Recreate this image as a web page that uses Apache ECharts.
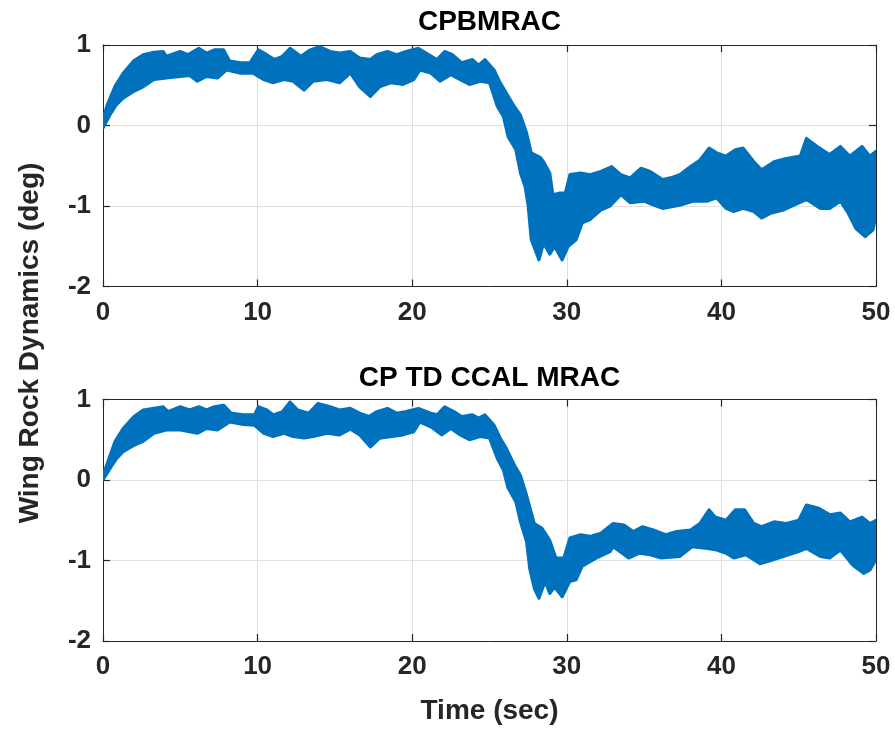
<!DOCTYPE html>
<html>
<head>
<meta charset="utf-8">
<script src="https://cdn.jsdelivr.net/npm/echarts@6/dist/echarts.min.js"></script>
<style>html,body{margin:0;padding:0;background:#fff}#chart{width:895px;height:729px}</style>
</head>
<body>
<div id="chart"></div>
<script>
// Axis settings
const xMin = 0, xMax = 50, xStep = 10;
const yMin = -2, yMax = 1, yStep = 1;
const titleTop = 'CPBMRAC';
const titleBottom = 'CP TD CCAL MRAC';
const xLabel = 'Time (sec)';
const yLabel = 'Wing Rock Dynamics (deg)';

// Top plot (CPBMRAC): upper and lower envelope of the response band [time, value]
const topUpper = [[0,0.07],[0.24,0.24],[0.78,0.49],[1.3,0.65],[1.96,0.80],[2.6,0.88],[3.3,0.91],[3.9,0.92],[4.1,0.86],[5.0,0.92],[5.5,0.88],[6.2,0.96],[6.7,0.90],[7.2,0.94],[7.8,0.94],[8.2,0.80],[8.9,0.78],[9.5,0.78],[10.05,0.94],[10.6,0.88],[11.1,0.82],[11.6,0.86],[12.1,0.96],[12.8,0.86],[13.4,0.94],[14.0,0.98],[14.7,0.92],[15.3,0.90],[16.0,0.92],[16.6,0.84],[17.3,0.82],[17.7,0.88],[18.4,0.92],[19.0,0.88],[19.6,0.92],[20.4,0.96],[20.9,0.90],[21.6,0.82],[22.1,0.92],[22.6,0.88],[23.2,0.78],[23.9,0.82],[24.3,0.75],[24.7,0.82],[25.3,0.69],[25.7,0.53],[26.1,0.40],[26.6,0.24],[27.0,0.13],[27.4,-0.09],[27.7,-0.34],[28.3,-0.40],[28.5,-0.45],[28.9,-0.59],[29.1,-0.86],[29.5,-0.84],[29.9,-0.84],[30.2,-0.61],[30.9,-0.59],[31.5,-0.61],[32.2,-0.57],[32.9,-0.51],[33.5,-0.61],[34.1,-0.65],[34.8,-0.53],[35.4,-0.57],[36.2,-0.67],[36.7,-0.65],[37.3,-0.61],[38.0,-0.51],[38.6,-0.43],[39.2,-0.28],[39.7,-0.34],[40.3,-0.38],[40.9,-0.30],[41.4,-0.28],[42.1,-0.45],[42.6,-0.55],[43.4,-0.45],[44.2,-0.41],[45.1,-0.38],[45.5,-0.16],[46.2,-0.26],[47.0,-0.36],[47.7,-0.26],[48.3,-0.38],[49.1,-0.26],[49.6,-0.38],[50,-0.32]];
const topLower = [[0,-0.03],[0.45,0.13],[0.88,0.26],[1.3,0.34],[1.96,0.42],[2.6,0.48],[3.3,0.57],[4.1,0.59],[5.0,0.61],[5.6,0.62],[6.1,0.55],[6.7,0.61],[7.4,0.59],[8.0,0.69],[8.9,0.65],[9.7,0.65],[10.4,0.57],[11.0,0.53],[11.7,0.57],[12.3,0.55],[13.0,0.44],[13.6,0.55],[14.5,0.57],[15.3,0.53],[16.0,0.65],[16.6,0.48],[17.3,0.36],[17.9,0.48],[18.6,0.53],[19.4,0.51],[20.1,0.57],[20.5,0.69],[21.2,0.65],[21.8,0.55],[22.5,0.63],[23.1,0.57],[23.7,0.51],[24.4,0.55],[25.0,0.53],[25.5,0.24],[25.9,0.11],[26.2,-0.14],[26.7,-0.30],[27.0,-0.59],[27.3,-0.76],[27.5,-1.00],[27.7,-1.42],[28.2,-1.67],[28.5,-1.46],[28.9,-1.60],[29.2,-1.50],[29.7,-1.67],[30.1,-1.50],[30.6,-1.42],[31.0,-1.21],[31.5,-1.17],[32.2,-1.05],[32.8,-1.00],[33.5,-0.86],[34.1,-0.96],[35.0,-0.94],[35.6,-0.99],[36.2,-1.03],[37.3,-0.99],[38.2,-0.94],[39.1,-0.94],[39.7,-0.90],[40.3,-1.03],[40.8,-1.07],[41.4,-1.03],[42.1,-1.07],[42.6,-1.15],[43.2,-1.09],[44.0,-1.05],[44.7,-0.99],[45.5,-0.92],[46.4,-1.03],[47.0,-1.03],[47.7,-0.94],[48.2,-1.09],[48.7,-1.28],[49.3,-1.38],[49.8,-1.30],[50,-1.13]];

// Bottom plot (CP TD CCAL MRAC)
const botUpper = [[0,0.06],[0.78,0.48],[1.3,0.64],[2.0,0.79],[2.6,0.87],[3.9,0.91],[4.2,0.85],[5.0,0.91],[5.6,0.87],[6.2,0.91],[6.7,0.87],[7.2,0.91],[7.8,0.93],[8.3,0.83],[9.1,0.81],[9.8,0.81],[10.05,0.91],[10.6,0.87],[11.0,0.81],[11.6,0.85],[12.1,0.97],[12.6,0.87],[13.3,0.83],[13.9,0.95],[14.7,0.91],[15.3,0.87],[16.0,0.89],[16.6,0.83],[17.2,0.79],[17.7,0.85],[18.4,0.89],[19.0,0.83],[19.6,0.85],[20.4,0.89],[21.2,0.83],[21.6,0.81],[22.1,0.91],[22.7,0.85],[23.2,0.79],[23.9,0.81],[24.3,0.77],[24.7,0.81],[25.3,0.68],[25.7,0.52],[26.1,0.39],[26.6,0.19],[27.0,0.06],[27.4,-0.19],[27.9,-0.54],[28.4,-0.60],[28.9,-0.75],[29.3,-0.97],[29.8,-0.97],[30.2,-0.72],[30.9,-0.68],[31.5,-0.70],[32.2,-0.66],[33.0,-0.54],[33.7,-0.56],[34.3,-0.64],[34.9,-0.58],[35.6,-0.62],[36.4,-0.68],[37.1,-0.64],[38.0,-0.62],[38.6,-0.54],[39.2,-0.37],[39.6,-0.46],[40.3,-0.50],[40.9,-0.37],[41.5,-0.37],[42.1,-0.54],[42.6,-0.58],[43.4,-0.52],[44.2,-0.54],[45.0,-0.50],[45.5,-0.31],[46.3,-0.35],[47.0,-0.43],[47.7,-0.41],[48.3,-0.52],[49.1,-0.46],[49.6,-0.54],[50,-0.50]];
const botLower = [[0,0.0],[0.45,0.14],[0.9,0.27],[1.3,0.35],[2.0,0.43],[2.6,0.48],[3.3,0.58],[4.1,0.62],[5.0,0.62],[6.1,0.58],[6.7,0.64],[7.4,0.62],[8.2,0.72],[9.1,0.69],[9.8,0.68],[10.4,0.58],[11.0,0.54],[11.7,0.58],[12.3,0.54],[13.0,0.52],[13.6,0.54],[14.5,0.58],[15.3,0.56],[16.0,0.63],[16.6,0.56],[17.3,0.41],[17.9,0.52],[18.7,0.54],[19.4,0.56],[20.1,0.60],[20.5,0.72],[21.2,0.66],[21.9,0.56],[22.5,0.64],[23.1,0.56],[23.7,0.50],[24.4,0.54],[25.0,0.52],[25.5,0.27],[25.9,0.12],[26.2,-0.10],[26.7,-0.27],[27.0,-0.52],[27.4,-0.77],[27.6,-1.10],[27.9,-1.35],[28.2,-1.47],[28.6,-1.26],[28.9,-1.41],[29.2,-1.33],[29.7,-1.45],[30.2,-1.26],[30.6,-1.24],[31.0,-1.07],[31.9,-0.97],[32.8,-0.89],[33.0,-0.83],[34.0,-0.97],[34.7,-0.91],[35.4,-0.93],[36.1,-0.97],[37.3,-0.95],[38.1,-0.83],[39.1,-0.85],[39.7,-0.87],[40.3,-0.91],[40.8,-0.97],[41.6,-0.93],[42.5,-1.04],[43.2,-1.00],[44.0,-0.95],[45.0,-0.89],[45.5,-0.85],[46.4,-0.95],[47.0,-0.97],[47.7,-0.87],[48.5,-1.06],[49.2,-1.16],[49.6,-1.12],[50,-0.99]];

const BLUE = '#0072BD';
const AX = '#262626';
const FONT = '"Liberation Sans", Arial, Helvetica, sans-serif';
const FS = 26;      // tick labels
const FS_T = 28;    // titles and axis names

const chart = echarts.init(document.getElementById('chart'), null, {renderer: 'canvas'});

function bandRenderer(upper, lower) {
  return function (params, api) {
    if (params.dataIndex !== 0) return null;
    const pts = upper.map(p => api.coord(p)).concat(lower.slice().reverse().map(p => api.coord(p)));
    return {
      type: 'polygon',
      shape: { points: pts },
      style: { fill: BLUE, stroke: BLUE, lineWidth: 3, lineJoin: 'round' }
    };
  };
}

function xMain(gi) {
  return {
    type: 'value', gridIndex: gi, min: xMin, max: xMax, interval: xStep, position: 'bottom',
    axisLine: { show: true, onZero: false, lineStyle: { color: AX, width: 1 } },
    axisTick: { show: true, inside: true, length: 7, lineStyle: { color: AX, width: 1.2 } },
    axisLabel: { color: AX, fontSize: FS, fontWeight: 'bold', fontFamily: FONT, margin: 13 },
    splitLine: { show: true, lineStyle: { color: '#dfdfdf', width: 1 } }
  };
}
function xTop(gi) {
  return {
    type: 'value', gridIndex: gi, min: xMin, max: xMax, interval: xStep, position: 'top',
    axisLine: { show: true, onZero: false, lineStyle: { color: AX, width: 1 } },
    axisTick: { show: true, inside: true, length: 7, lineStyle: { color: AX, width: 1.2 } },
    axisLabel: { show: false }, splitLine: { show: false }
  };
}
function yMain(gi) {
  return {
    type: 'value', gridIndex: gi, min: yMin, max: yMax, interval: yStep, position: 'left',
    axisLine: { show: true, onZero: false, lineStyle: { color: AX, width: 1 } },
    axisTick: { show: true, inside: true, length: 7, lineStyle: { color: AX, width: 1.2 } },
    axisLabel: { color: AX, fontSize: FS, fontWeight: 'bold', fontFamily: FONT, margin: 12 },
    splitLine: { show: true, lineStyle: { color: '#dfdfdf', width: 1 } }
  };
}
function yRight(gi) {
  return {
    type: 'value', gridIndex: gi, min: yMin, max: yMax, interval: yStep, position: 'right',
    axisLine: { show: true, onZero: false, lineStyle: { color: AX, width: 1 } },
    axisTick: { show: true, inside: true, length: 7, lineStyle: { color: AX, width: 1.2 } },
    axisLabel: { show: false }, splitLine: { show: false }
  };
}

const option = {
  backgroundColor: '#fff',
  animation: false,
  grid: [
    { left: 103, right: 19, top: 45, height: 241.5 },
    { left: 103, right: 19, top: 399.5, height: 241.5 }
  ],
  xAxis: [xMain(0), xTop(0), xMain(1), xTop(1)],
  yAxis: [yMain(0), yRight(0), yMain(1), yRight(1)],
  series: [
    { type: 'custom', xAxisIndex: 0, yAxisIndex: 0, data: [[xMin, 0]], renderItem: bandRenderer(topUpper, topLower), clip: true, silent: true, z: 1 },
    { type: 'custom', xAxisIndex: 2, yAxisIndex: 2, data: [[xMin, 0]], renderItem: bandRenderer(botUpper, botLower), clip: true, silent: true, z: 1 }
  ],
  graphic: [
    { type: 'text', x: 489.5, y: 22, style: { text: titleTop, font: 'bold ' + FS_T + 'px ' + FONT, fill: '#000', align: 'center', verticalAlign: 'middle' } },
    { type: 'text', x: 489.5, y: 378, style: { text: titleBottom, font: 'bold ' + FS_T + 'px ' + FONT, fill: '#000', align: 'center', verticalAlign: 'middle' } },
    { type: 'text', x: 489.5, y: 711, style: { text: xLabel, font: 'bold ' + FS_T + 'px ' + FONT, fill: AX, align: 'center', verticalAlign: 'middle' } },
    { type: 'text', x: 30, y: 343, rotation: Math.PI / 2, style: { text: yLabel, font: 'bold ' + FS_T + 'px ' + FONT, fill: AX, align: 'center', verticalAlign: 'middle' } }
  ]
};
chart.setOption(option);
</script>
</body>
</html>
